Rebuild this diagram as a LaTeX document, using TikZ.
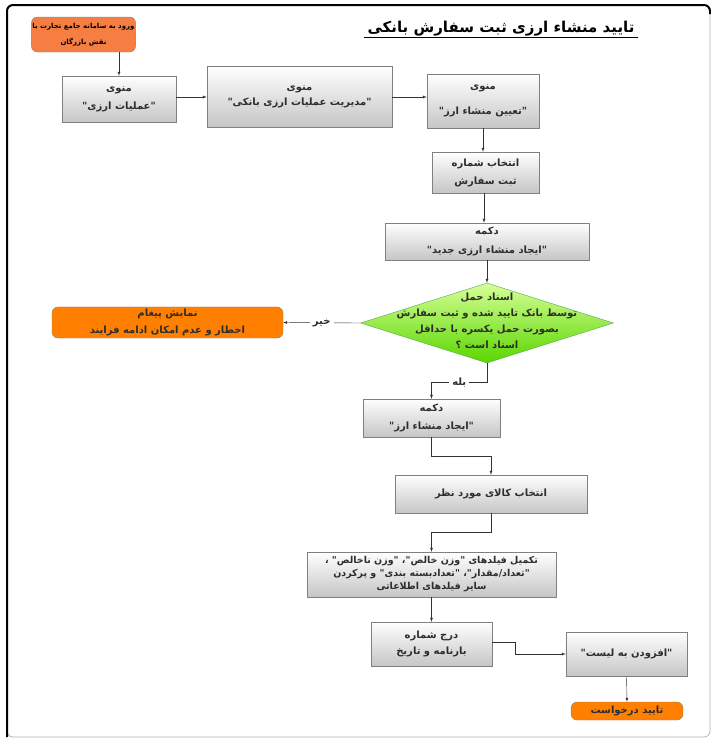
\documentclass[tikz,border=0pt]{standalone}
\usepackage{fontspec}
\newfontfamily\fafont[Script=Arabic]{DejaVu Sans}
\TeXXeTstate=1
\usetikzlibrary{arrows, shapes.geometric}
\definecolor{startorange}{RGB}{246,126,66}
\definecolor{endorange}{RGB}{255,128,0}
\definecolor{boxgray}{RGB}{128,128,128}
\definecolor{lightgreen}{RGB}{214,255,150}
\definecolor{deepgreen}{RGB}{90,214,0}
\definecolor{inkgray}{RGB}{45,45,45}
\def\fatext#1{\beginR #1\endR}
\def\fasize#1#2{\fafont\bfseries\fontsize{#1}{#2}\selectfont}

\begin{document}
\begin{tikzpicture}[x=1pt, y=-1pt, font=\fasize{10}{18}, text=inkgray,
	menubox/.style={draw=boxgray, top color=white, bottom color=gray!45, align=center, inner sep=2pt},
	orangebox/.style={draw=gray!70!brown, rounded corners=6pt, align=center, inner sep=2pt},
	arr/.style={-latex, draw=black!80},
	lbl/.style={fill=white, inner sep=3pt}]

	\useasboundingbox (0,0) rectangle (711,740);
	\draw[gray!60, line width=0.8pt, rounded corners=6pt] (7,5) rectangle (710,737);
	\draw[line width=2pt, rounded corners=6pt] (7,737) -- (7,5) -- (710,5) -- (710,14);

	\node[font=\fasize{15}{17}, text=black] (title) at (501,29) {\fatext{تایید منشاء ارزی ثبت سفارش بانکی}};
	\draw ([yshift=-4pt]title.base west) -- ([yshift=-4pt]title.base east);

	\node[orangebox, fill=startorange, minimum width=103pt, minimum height=35pt, inner sep=1pt, font=\fasize{7}{16}, text=black] (start) at (83.5,34.5) {\fatext{ورود به سامانه جامع تجارت با}\\ \fatext{نقش بازرگان}};
	\node[menubox, minimum width=114pt, minimum height=46pt] (amaliat) at (119,99) {\fatext{منوی}\\ \fatext{"عملیات ارزی"}};
	\node[menubox, minimum width=185pt, minimum height=61pt, font=\fasize{10}{15}] (modiriat) at (299.5,96.5) {\fatext{منوی}\\ \fatext{"مدیریت عملیات ارزی بانکی"}};
	\node[menubox, minimum width=112pt, minimum height=54pt, font=\fasize{10}{25}] (tayin) at (483,101) {\fatext{منوی}\\ \fatext{"تعیین منشاء ارز"}};
	\node[menubox, minimum width=107pt, minimum height=41pt] (shomare) at (485.5,172.5) {\fatext{انتخاب شماره}\\ \fatext{ثبت سفارش}};
	\node[menubox, minimum width=204pt, minimum height=37pt, font=\fasize{10}{19}] (jadid) at (487,241.5) {\fatext{دکمه}\\ \fatext{"ایجاد منشاء ارزی جدید"}};

	\node[diamond, draw=gray!70!green, top color=lightgreen, bottom color=deepgreen, inner sep=0pt, minimum width=253pt, minimum height=80pt] (haml) at (487,323) {};
	\node[align=center, font=\fasize{10}{16}] (hamltext) at (487,321) {\fatext{اسناد حمل}\\ \fatext{توسط بانک تایید شده و ثبت سفارش}\\ \fatext{بصورت حمل یکسره با حداقل}\\ \fatext{اسناد است ؟}};

	\node[orangebox, fill=endorange, minimum width=231pt, minimum height=31pt, font=\fasize{10}{17}] (payam) at (167.5,322.5) {\fatext{نمایش پیغام}\\ \fatext{اخطار و عدم امکان ادامه فرایند}};
	\node[menubox, minimum width=137pt, minimum height=38pt] (monsha) at (431.5,418) {\fatext{دکمه}\\ \fatext{"ایجاد منشاء ارز"}};
	\node[menubox, minimum width=192pt, minimum height=38pt] (kala) at (491,494) {\fatext{انتخاب کالای مورد نظر}};
	\node[menubox, minimum width=249pt, minimum height=45pt, font=\fasize{9.5}{13}] (takmil) at (431.5,574.5) {\fatext{تکمیل فیلدهای "وزن خالص"، "وزن ناخالص" ،}\\ \fatext{"تعداد/مقدار"، "تعدادبسته بندی"  و پرکردن}\\ \fatext{سایر فیلدهای اطلاعاتی}};
	\node[menubox, minimum width=121pt, minimum height=44pt, font=\fasize{10}{16}] (darj) at (431.5,644) {\fatext{درج شماره}\\ \fatext{بارنامه و تاریخ}};
	\node[menubox, minimum width=121pt, minimum height=44pt] (afzudan) at (626.5,654) {\fatext{"افزودن به لیست"}};
	\node[orangebox, fill=endorange, minimum width=112pt, minimum height=18pt] (taeed) at (627,711) {\fatext{تایید درخواست}};

	\draw[arr] (start.south -| amaliat) -- (amaliat.north);
	\draw[arr] (amaliat.east |- 0,97) -- (modiriat.west |- 0,97);
	\draw[arr] (modiriat.east |- 0,97) -- (tayin.west |- 0,97);
	\draw[arr] (tayin.south) -- (tayin.south |- shomare.north);
	\draw[arr] (shomare.south -| 484,0) -- (jadid.north -| 484,0);
	\draw[arr] (jadid.south) -- (haml.north);
	\draw[arr] (haml.west) -- node[lbl] (kheir) {\fatext{خیر}} (payam.east);
	\draw[arr] (haml.south) -- ++(0,19) coordinate (yes) -- node[lbl] (bale) {\fatext{بله}} (yes -| monsha.north) -- (monsha.north);
	\draw[arr] (monsha.south) -- ++(0,19) -| (kala.north);
	\draw[arr] (kala.south) -- ++(0,19) -| (takmil.north);
	\draw[arr] (takmil.south) -- (darj.north);
	\draw[arr] (darj.east |- 0,642) -- ++(23,0) |- (afzudan.west);
	\draw[arr] (afzudan.south) -- (taeed.north);

\end{tikzpicture}
\end{document}
